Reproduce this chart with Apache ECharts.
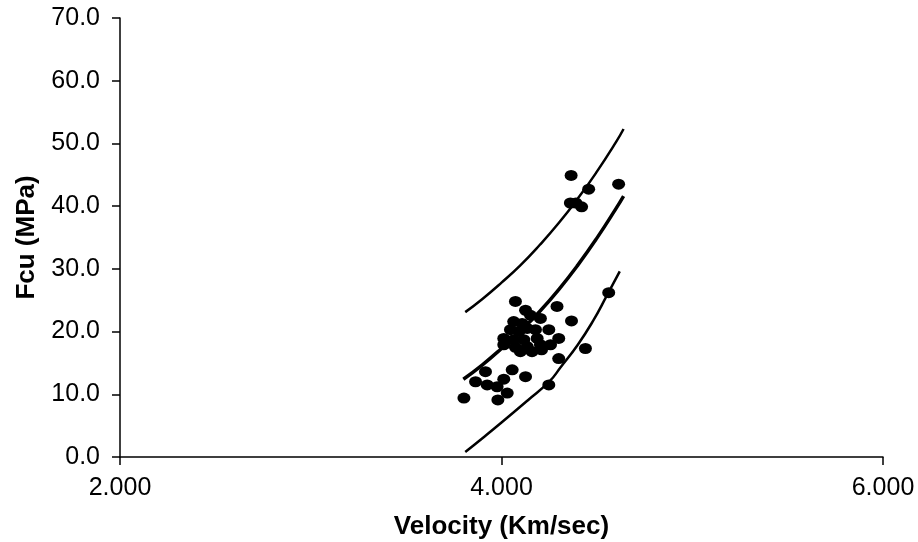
<!DOCTYPE html>
<html>
<head>
<meta charset="utf-8">
<script src="https://cdn.jsdelivr.net/npm/echarts@6/dist/echarts.min.js"></script>
<style>
  html, body { margin: 0; padding: 0; background: #fff; }
  #chart { width: 918px; height: 542px; }
</style>
</head>
<body>
<div id="chart"></div>
<script>
  // measured points (velocity km/s, fcu MPa)
  var velocity = [3.803, 3.981, 4.030, 3.864, 3.925, 3.977, 4.012, 4.056, 4.126, 3.916,
    4.248, 4.300, 4.440, 4.562, 4.073, 4.291, 4.367, 4.248, 4.300,
    4.126, 4.152, 4.204, 4.064, 4.108, 4.047, 4.091, 4.135, 4.178,
    4.012, 4.064, 4.117, 4.187, 4.012, 4.073, 4.135, 4.204, 4.257,
    4.099, 4.160, 4.210,
    4.365, 4.457, 4.614, 4.361, 4.420, 4.390];
  var fcu = [9.4, 9.1, 10.2, 12.0, 11.5, 11.2, 12.4, 13.9, 12.8, 13.6,
    11.5, 15.7, 17.3, 26.2, 24.8, 24.0, 21.7, 20.3, 18.9,
    23.4, 22.6, 22.1, 21.6, 21.3, 20.3, 20.0, 20.5, 20.3,
    18.9, 18.7, 18.7, 18.9, 17.9, 17.5, 17.6, 17.9, 17.9,
    16.8, 16.8, 17.1,
    44.9, 42.7, 43.5, 40.5, 39.9, 40.5];

  // curves
  var upperX = [3.81, 3.90, 4.00, 4.10, 4.20, 4.30, 4.40, 4.50, 4.60, 4.64];
  var upperY = [23.1, 25.2, 27.8, 30.6, 33.8, 37.3, 41.2, 45.5, 50.2, 52.3];
  var midX = [3.80, 3.90, 4.00, 4.10, 4.20, 4.30, 4.40, 4.50, 4.60, 4.64];
  var midY = [12.4, 14.7, 17.3, 20.1, 23.2, 26.7, 30.6, 34.9, 39.6, 41.6];
  var lowX = [3.81, 3.90, 4.00, 4.14, 4.25, 4.31, 4.40, 4.48, 4.55, 4.62];
  var lowY = [0.8, 3.0, 5.5, 9.1, 12.0, 14.3, 17.9, 21.7, 25.6, 29.6];

  var xTicks = [2, 4, 6];
  var yMin = 0, yMax = 70, yStep = 10;

  function pairs(xs, ys) {
    var out = [];
    for (var i = 0; i < xs.length; i++) out.push([xs[i], ys[i]]);
    return out;
  }

  var font = 'Liberation Sans, Arial, sans-serif';
  var chart = echarts.init(document.getElementById('chart'));

  function curve(xs, ys, w) {
    return {
      type: 'line',
      data: pairs(xs, ys),
      smooth: true,
      showSymbol: false,
      lineStyle: { color: '#000', width: w },
      z: 2
    };
  }

  chart.setOption({
    animation: false,
    grid: { left: 120, right: 35, top: 18, bottom: 85, containLabel: false, outerBoundsMode: 'none' },
    xAxis: {
      type: 'value',
      min: xTicks[0],
      max: xTicks[xTicks.length - 1],
      interval: xTicks[1] - xTicks[0],
      name: 'Velocity (Km/sec)',
      nameLocation: 'middle',
      nameGap: 57,
      nameTextStyle: { fontFamily: font, fontWeight: 'bold', fontSize: 26, color: '#000' },
      axisLine: { onZero: false, lineStyle: { color: '#000', width: 1.5 } },
      axisTick: { show: true, length: 8, lineStyle: { color: '#000', width: 1.5 } },
      splitLine: { show: false },
      axisLabel: {
        margin: 19,
        fontFamily: font,
        fontSize: 25,
        color: '#000',
        formatter: function (v) { return v.toFixed(3); }
      }
    },
    yAxis: {
      type: 'value',
      min: yMin,
      max: yMax,
      interval: yStep,
      name: 'Fcu (MPa)',
      nameLocation: 'middle',
      nameRotate: 90,
      nameGap: 80,
      nameTextStyle: { fontFamily: font, fontWeight: 'bold', fontSize: 26, color: '#000' },
      axisLine: { show: true, lineStyle: { color: '#000', width: 1.5 } },
      axisTick: { show: true, length: 8, lineStyle: { color: '#000', width: 1.5 } },
      splitLine: { show: false },
      axisLabel: {
        margin: 20,
        fontFamily: font,
        fontSize: 25,
        color: '#000',
        formatter: function (v) { return v.toFixed(1); }
      }
    },
    series: [
      curve(upperX, upperY, 2.5),
      curve(midX, midY, 3.5),
      curve(lowX, lowY, 2.5),
      {
        type: 'scatter',
        data: pairs(velocity, fcu),
        symbol: 'circle',
        symbolSize: [13, 11],
        itemStyle: { color: '#000', opacity: 1 },
        z: 3
      }
    ]
  });
</script>
</body>
</html>
